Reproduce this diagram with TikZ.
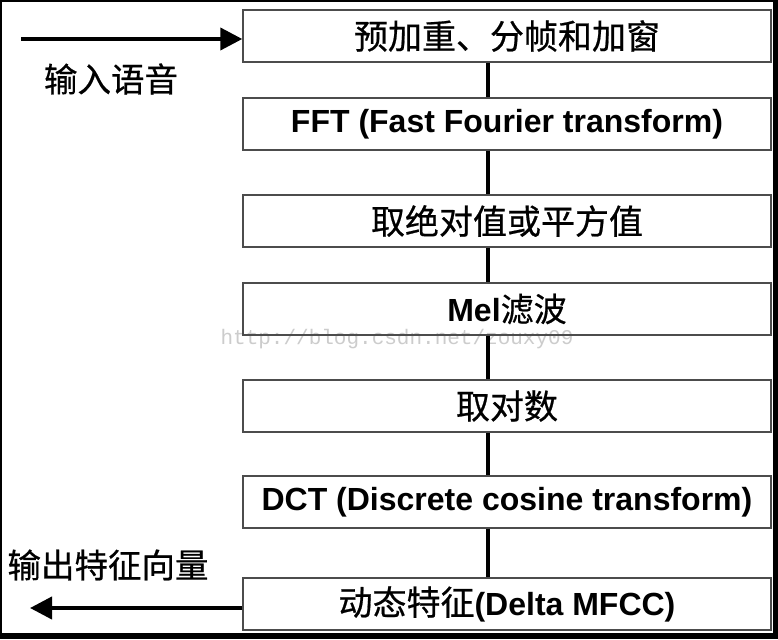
\documentclass[tikz,border=0pt]{standalone}
\usepackage{fontspec}
\setmainfont{Liberation Sans}
\newfontfamily\cjk[FakeBold=0.6]{Noto Sans CJK SC}
\newfontfamily\wmfont{Liberation Mono}
\usetikzlibrary{positioning,arrows.meta}

\begin{document}
\begin{tikzpicture}[x=1pt,y=-1pt,node distance=96pt,on grid,
  stage/.style={draw=black!70,line width=1.4pt,minimum width=528pt,minimum height=52pt,inner sep=0pt,font=\fontsize{32}{36}\selectfont},
  zh/.style={font=\fontsize{34}{36}\selectfont\cjk},
  link/.style={line width=4pt},
  flow/.style={line width=4pt,-{Triangle[length=22pt,width=22pt]}},
  tag/.style={font=\fontsize{33.5}{36}\selectfont\cjk,inner sep=0pt}]
\useasboundingbox (0,0) rectangle (778,639);
\fill[black] (0,0) rectangle (778,639);
\fill[white] (2,2) rectangle (773,633);
\node[font=\fontsize{21}{24}\selectfont\wmfont,text=black!20] (mark) at (397,339) {http://blog.csdn.net/zouxy09};
\node[stage,zh] (s_1) at (507,36) {预加重、分帧和加窗};
\node[stage] (s_2) [below=88pt of s_1] {\bfseries FFT (Fast Fourier  transform)};
\node[stage,zh] (s_3) [below=97pt of s_2] {取绝对值或平方值};
\node[stage] (s_4) [below=88pt of s_3] {\bfseries Mel{\fontsize{33}{36}\selectfont\cjk\mdseries 滤波}};
\node[stage,zh] (s_5) [below=97pt of s_4] {取对数};
\node[stage] (s_6) [below=96pt of s_5] {\bfseries DCT (Discrete cosine  transform)};
\node[stage] (s_7) [below=102pt of s_6] {{\fontsize{34}{36}\selectfont\cjk 动态特征}\bfseries(Delta MFCC)};
\coordinate (spine) at (488,0);
\coordinate (in) at (21,39);
\coordinate (out) at (30,608);
\node[tag] (in_label) at (111,79) {输入语音};
\node[tag] (out_label) at (108,565) {输出特征向量};
\draw[flow] (in) -- (in -| s_1.west);
\draw[flow] (s_7.west |- out) -- (out);
\path[link]
(s_1.south -| spine) edge (s_2.north -| spine)
(s_2.south -| spine) edge (s_3.north -| spine)
(s_3.south -| spine) edge (s_4.north -| spine)
(s_4.south -| spine) edge (s_5.north -| spine)
(s_5.south -| spine) edge (s_6.north -| spine)
(s_6.south -| spine) edge (s_7.north -| spine);
\end{tikzpicture}
\end{document}
